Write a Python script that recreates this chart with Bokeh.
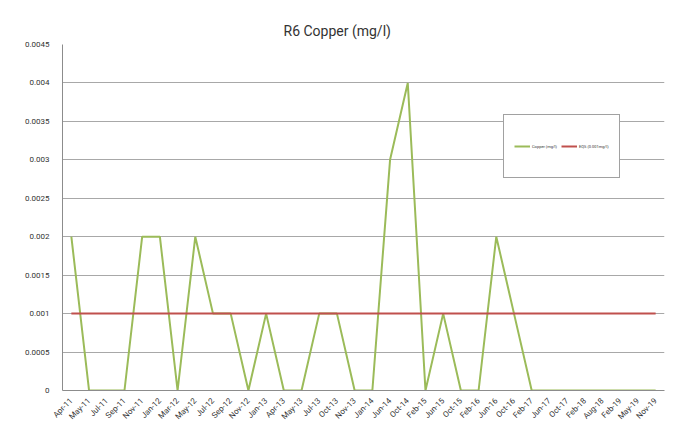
from bokeh.plotting import figure
from bokeh.models import FactorRange, Range1d, Legend, LegendItem, CustomJSTickFormatter, FixedTicker, Title
from bokeh.embed import file_html
from bokeh.resources import INLINE
import math

categories = ["Apr-11", "May-11", "Jul-11", "Sep-11", "Nov-11", "Jan-12", "Mar-12", "May-12",
              "Jul-12", "Sep-12", "Nov-12", "Jan-13", "Apr-13", "May-13", "Jul-13", "Oct-13",
              "Nov-13", "Jan-14", "Jun-14", "Oct-14", "Feb-15", "Jun-15", "Oct-15", "Feb-16",
              "Jun-16", "Oct-16", "Feb-17", "Jun-17", "Oct-17", "Feb-18", "Aug-18", "Feb-19",
              "May-19", "Nov-19"]
copper = [0.002, 0, 0, 0, 0.002, 0.002, 0, 0.002,
          0.001, 0.001, 0, 0.001, 0, 0, 0.001, 0.001,
          0, 0, 0.003, 0.004, 0, 0.001, 0, 0,
          0.002, 0.001, 0, 0, 0, 0, 0, 0,
          0, 0]
eqs = [0.001, 0.001, 0.001, 0.001, 0.001, 0.001, 0.001, 0.001,
       0.001, 0.001, 0.001, 0.001, 0.001, 0.001, 0.001, 0.001,
       0.001, 0.001, 0.001, 0.001, 0.001, 0.001, 0.001, 0.001,
       0.001, 0.001, 0.001, 0.001, 0.001, 0.001, 0.001, 0.001,
       0.001, 0.001]
y_ticks = [0, 0.0005, 0.001, 0.0015, 0.002, 0.0025, 0.003, 0.0035, 0.004, 0.0045]

FONT = "Roboto"

p = figure(width=672, height=430, output_backend="svg", toolbar_location=None,
           x_range=FactorRange(*categories, range_padding=0),
           y_range=Range1d(0, 0.0045),
           min_border_left=62, min_border_right=8, min_border_top=44, min_border_bottom=40)
p.title = Title(text="R6 Copper (mg/l)", align="left", offset=221, text_font=FONT,
                text_font_size="14px", text_font_style="normal", text_color="#333333",
                standoff=12)
p.outline_line_color = None

r1 = p.line(categories, copper, line_color="#9BBB59", line_width=2)
r2 = p.line(categories, eqs, line_color="#C0504D", line_width=2)

p.xgrid.grid_line_color = None
p.ygrid.grid_line_color = "#a8a8a8"
p.ygrid.grid_line_width = 1

p.yaxis.ticker = FixedTicker(ticks=y_ticks)
p.yaxis.formatter = CustomJSTickFormatter(code="""
    let s = tick.toFixed(4);
    s = s.replace(/0+$/, '').replace(/\\.$/, '');
    return s;
""")
for ax in (p.xaxis, p.yaxis):
    ax.axis_line_color = "#8c8c8c"
    ax.major_tick_line_color = None
    ax.minor_tick_line_color = None
    ax.major_label_text_font = FONT
    ax.major_label_text_font_size = "8px"
    ax.major_label_text_color = "#333333"
p.yaxis.major_label_standoff = 7
p.xaxis.major_label_standoff = 3
p.xaxis.major_label_orientation = math.pi / 4

legend = Legend(items=[LegendItem(label="Copper (mg/l)", renderers=[r1]),
                       LegendItem(label="EQS (0.001mg/l)", renderers=[r2])],
                orientation="horizontal", location=(441, 212),
                border_line_color="#444444", border_line_width=1,
                padding=10, spacing=4, glyph_width=16, glyph_height=42,
                label_height=42, label_standoff=2, margin=0,
                label_text_font=FONT, label_text_font_size="4px",
                label_text_color="#333333", background_fill_alpha=1)
p.add_layout(legend, "center")

open("out.html", "w").write(file_html(p, INLINE))
